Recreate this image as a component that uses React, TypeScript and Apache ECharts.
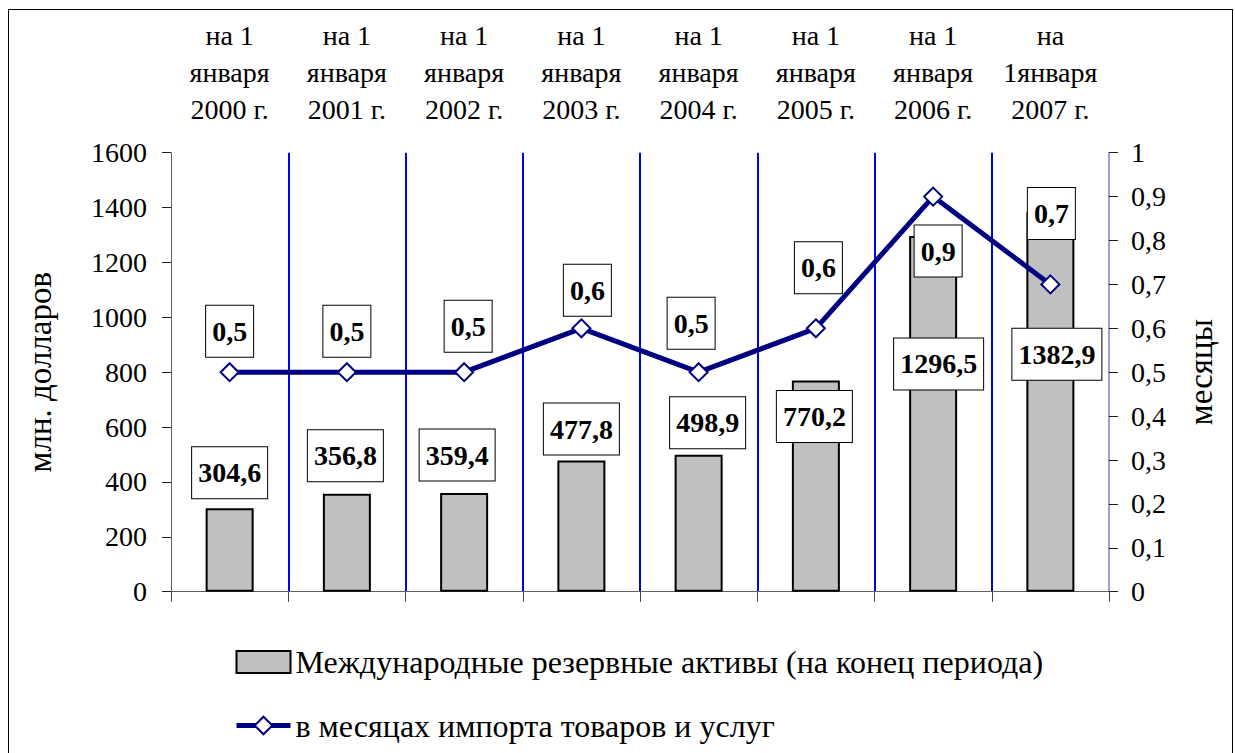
import React, { useEffect, useRef, useState } from "react";
import * as echarts from "echarts";

const categories = [
  "на 1\nянваря\n2000 г.",
  "на 1\nянваря\n2001 г.",
  "на 1\nянваря\n2002 г.",
  "на 1\nянваря\n2003 г.",
  "на 1\nянваря\n2004 г.",
  "на 1\nянваря\n2005 г.",
  "на 1\nянваря\n2006 г.",
  "на\n1января\n2007 г.",
];
const reserves = [304.6, 356.8, 359.4, 477.8, 498.9, 770.2, 1296.5, 1382.9];
const monthsOfImport = [0.5, 0.5, 0.5, 0.6, 0.5, 0.6, 0.9, 0.7];

const barName = "Международные резервные активы (на конец периода)";
const lineName = "в месяцах импорта товаров и услуг";
const leftAxisName = "млн. долларов";
const rightAxisName = "месяцы";

// label placement tweaks (pixels), mirroring the manually placed labels
const barLabelOffsets = [
  [0, -10], [-1.5, -12.5], [-7, -12.5], [0, -6], [9, -6.5], [-1.5, 61.5], [5.5, 153.5], [6.5, 167.5],
];
const lineLabelOffsets = [
  [0, -41], [0, -41], [4, -46], [6, -38], [-7.5, -49], [2.5, -60.5], [5, 54.5], [1, -71],
];

const FONT = "Liberation Serif";
const FS = 28;
const fmt = (v: number) => String(v).replace(".", ",");
const fmt1 = (v: number) => v.toFixed(1).replace(".", ",");

const boxLabel = {
  show: true,
  fontFamily: FONT,
  fontSize: FS,
  fontWeight: "bold" as const,
  color: "#000",
  lineHeight: 31,
  backgroundColor: "#fff",
  borderColor: "#000",
  borderWidth: 1,
  padding: [10, 6, 10, 6],
};

function buildOption() {
  return {
    animation: false,
    backgroundColor: "#fff",
    textStyle: { fontFamily: FONT },
    grid: { left: 171, right: 126, top: 152.7, bottom: 161.3, containLabel: false },
    legend: {
      orient: "vertical",
      left: 229,
      top: 641,
      itemWidth: 54,
      itemHeight: 22,
      itemGap: 31.5,
      textStyle: { fontFamily: FONT, fontSize: 32, color: "#000", lineHeight: 32 },
      data: [
        { name: barName, icon: "rect" },
        { name: lineName, lineStyle: { width: 5 } },
      ],
    },
    xAxis: [
      {
        type: "category",
        data: categories,
        position: "bottom",
        axisLine: { show: true, lineStyle: { color: "#606060", width: 1 } },
        axisTick: { show: true, length: 10, lineStyle: { color: "#404040", width: 1 } },
        axisLabel: { show: false },
        splitLine: {
          show: true,
          showMinLine: false,
          showMaxLine: false,
          lineStyle: { color: "#0000ff", width: 2 },
        },
      },
      {
        type: "category",
        data: categories,
        position: "top",
        axisLine: { show: false },
        axisTick: { show: false },
        splitLine: { show: false },
        axisLabel: {
          show: true,
          interval: 0,
          margin: 25,
          fontFamily: FONT,
          fontSize: FS,
          lineHeight: 37,
          color: "#000",
        },
      },
    ],
    yAxis: [
      {
        type: "value",
        position: "left",
        min: 0,
        max: 1600,
        interval: 200,
        name: leftAxisName,
        nameLocation: "middle",
        nameRotate: 90,
        nameGap: 115,
        nameTextStyle: { fontFamily: FONT, fontSize: 33, color: "#000" },
        axisLine: { show: true, lineStyle: { color: "#606060", width: 1 } },
        axisTick: { show: true, length: 9, lineStyle: { color: "#202020", width: 1 } },
        axisLabel: {
          margin: 24,
          fontFamily: FONT,
          fontSize: FS,
          color: "#000",
          formatter: (v: number) => String(v),
        },
        splitLine: { show: false },
      },
      {
        type: "value",
        position: "right",
        min: 0,
        max: 1,
        interval: 0.1,
        name: rightAxisName,
        nameLocation: "middle",
        nameRotate: 90,
        nameGap: 75,
        nameTextStyle: { fontFamily: FONT, fontSize: 33, color: "#000" },
        axisLine: { show: true, lineStyle: { color: "#7b7bd8", width: 1.5 } },
        axisTick: { show: true, length: 9, lineStyle: { color: "#202020", width: 1 } },
        axisLabel: {
          margin: 22,
          fontFamily: FONT,
          fontSize: FS,
          color: "#000",
          formatter: (v: number) => fmt(Math.round(v * 10) / 10),
        },
        splitLine: { show: false },
      },
    ],
    series: [
      {
        name: barName,
        type: "bar",
        barWidth: 48,
        itemStyle: { color: "#c0c0c0", borderColor: "#000", borderWidth: 2 },
        data: reserves.map((v, i) => ({
          value: v,
          label: {
            ...boxLabel,
            position: "top",
            distance: 0,
            offset: barLabelOffsets[i],
            formatter: () => fmt1(v),
          },
        })),
      },
      {
        name: lineName,
        type: "line",
        yAxisIndex: 1,
        symbol: "diamond",
        symbolSize: 18,
        lineStyle: { color: "#000080", width: 5 },
        itemStyle: { color: "#fff", borderColor: "#000080", borderWidth: 2 },
        data: monthsOfImport.map((v, i) => ({
          value: v,
          label: {
            ...boxLabel,
            position: "inside",
            offset: lineLabelOffsets[i],
            formatter: () => fmt(v),
          },
        })),
      },
    ],
  };
}

export default function App() {
  const ref = useRef<HTMLDivElement>(null);
  const [ready, setReady] = useState(false);
  useEffect(() => {
    if (!ref.current) return;
    const chart = echarts.init(ref.current, undefined, { renderer: "svg" });
    chart.setOption(buildOption() as any);
    try {
      (document as any).fonts?.load?.(`${FS}px "${FONT}"`);
    } catch (e) {
      /* ignore */
    }
    const t = setTimeout(() => {
      if (!chart.isDisposed()) {
        chart.setOption(buildOption() as any, true);
      }
      setReady(true);
    }, 60);
    return () => {
      clearTimeout(t);
      chart.dispose();
    };
  }, []);
  return (
    <div data-ready={ready ? "1" : "0"}>
      <div
        ref={ref}
        style={{ position: "absolute", left: 0, top: 0, width: 1235, height: 753 }}
      />
      <div
        style={{
          position: "absolute",
          left: 8,
          top: 9,
          width: 1225,
          height: 744,
          boxSizing: "border-box",
          borderTop: "1.5px solid #000",
          borderLeft: "1.5px solid #000",
          borderRight: "1.5px solid #000",
          borderBottom: "none",
          pointerEvents: "none",
        }}
      />
    </div>
  );
}
